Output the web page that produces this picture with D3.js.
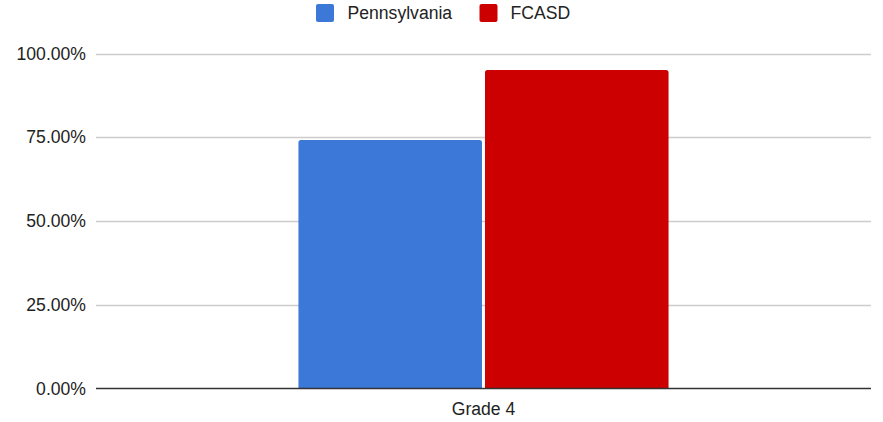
<!DOCTYPE html>
<html>
<head>
<meta charset="utf-8">
<script src="https://cdn.jsdelivr.net/npm/d3@7"></script>
<style>
  html, body { margin: 0; padding: 0; background: #fff; }
  svg { display: block; }
  text { font-family: Arial, "Liberation Sans", sans-serif; fill: #222; }
</style>
</head>
<body>
<svg id="chart" width="883" height="422"></svg>
<script>
const categories = ["Grade 4"];
const seriesNames = ["Pennsylvania", "FCASD"];
const pennsylvania = [0.742];
const fcasd = [0.951];
const yTicks = [0, 0.25, 0.5, 0.75, 1.0];
const colors = ["#3c78d8", "#cc0000"];

(function () {
const seriesValues = [pennsylvania, fcasd];
const svg = d3.select("#chart");
const plotLeft = 96, plotRight = 871, plotTop = 53.5, plotBottom = 388.5;

const x = d3.scaleBand().domain(categories).range([plotLeft, plotRight]).paddingInner(0).paddingOuter(0.547);
const xs = d3.scaleBand().domain(seriesNames).range([0, x.bandwidth()]).paddingInner(0.016);
const y = d3.scaleLinear().domain([0, 1]).range([plotBottom, plotTop]);

// gridlines
svg.append("g").selectAll("line").data(yTicks.filter(d => d > 0)).join("line")
  .attr("x1", plotLeft).attr("x2", plotRight)
  .attr("y1", d => Math.round(y(d)) + 0.5).attr("y2", d => Math.round(y(d)) + 0.5)
  .attr("stroke", "#cccccc").attr("stroke-width", 1.3);

// y labels
svg.append("g").selectAll("text").data(yTicks).join("text")
  .attr("x", 86).attr("y", d => y(d))
  .attr("dy", "0.35em").attr("text-anchor", "end")
  .style("font-size", "17.6px")
  .text(d => d3.format(".2%")(d));

// bars
const g = svg.append("g");
categories.forEach((c, ci) => {
  seriesNames.forEach((s, si) => {
    const v = seriesValues[si][ci];
    const x0 = x(c) + xs(s), w = xs.bandwidth();
    const y0 = y(v), r = 2.5;
    g.append("path")
      .attr("d", `M${x0},${plotBottom}V${y0 + r}Q${x0},${y0} ${x0 + r},${y0}H${x0 + w - r}Q${x0 + w},${y0} ${x0 + w},${y0 + r}V${plotBottom}Z`)
      .attr("fill", colors[si]);
  });
});

// baseline
svg.append("line").attr("x1", plotLeft).attr("x2", plotRight)
  .attr("y1", plotBottom).attr("y2", plotBottom)
  .attr("stroke", "#333").attr("stroke-width", 1.3);

// x labels
svg.append("g").selectAll("text").data(categories).join("text")
  .attr("x", d => x(d) + x.bandwidth() / 2).attr("y", 415)
  .attr("text-anchor", "middle").style("font-size", "17.6px")
  .text(d => d);

// legend
const legendItems = [
  { name: seriesNames[0], color: colors[0], sx: 316, tx: 347.5 },
  { name: seriesNames[1], color: colors[1], sx: 479.5, tx: 510.5 }
];
const lg = svg.append("g");
legendItems.forEach(it => {
  lg.append("rect").attr("x", it.sx).attr("y", 4).attr("width", 18).attr("height", 18)
    .attr("rx", 2).attr("fill", it.color);
  lg.append("text").attr("x", it.tx).attr("y", 13).attr("dy", "0.35em")
    .style("font-size", "17.6px").text(it.name);
});
})();
</script>
</body>
</html>
